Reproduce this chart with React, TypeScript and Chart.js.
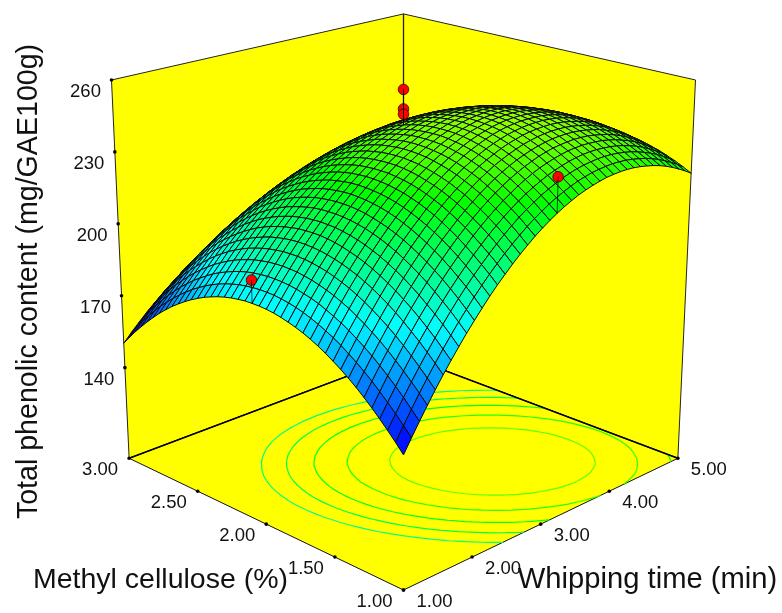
import React, { useEffect, useRef } from "react";
import { Chart, registerables } from "chart.js";
Chart.register(...registerables);

const timeTicks = [1, 2, 3, 4, 5];
const mcTicks = [1, 1.5, 2, 2.5, 3];
const zTicks = [140, 170, 200, 230, 260];
const zFloor = 102.2, zTop = 260;
const contourLevels = [209.5, 217.4, 225, 232.7, 240.3];
const runTime = [3, 3, 3, 3, 1];
const runMc = [2, 2, 2, 1, 2];
const runZ = [256.3, 248.6, 246.5, 238.8, 199.3];
const colorZ = [156.6, 192.1, 227.6, 263.1];
const colorRgb = [[0,0,255],[0,255,255],[0,255,0],[255,255,0]];

// Total phenolic content on the mesh: one row per methyl cellulose step, one value per whipping time step.
const zRow00 = [154.9,160.1,165.1,170.0,174.7,179.2,183.5,187.6,191.6,195.3,198.9,202.4,205.6,208.6,211.5,214.2,216.7,219.1,221.2,223.2,225.0,226.6,228.0,229.3,230.3,231.2,231.9,232.5,232.8,233.0,233.0,232.8,232.4,231.8,231.1,230.2,229.1,227.8,226.3,224.7,222.9];
const zRow01 = [158.4,163.5,168.5,173.4,178.0,182.4,186.7,190.8,194.7,198.4,202.0,205.4,208.6,211.6,214.4,217.0,219.5,221.8,223.9,225.8,227.6,229.1,230.5,231.7,232.8,233.6,234.3,234.7,235.0,235.2,235.1,234.9,234.4,233.8,233.1,232.1,231.0,229.6,228.1,226.5,224.6];
const zRow02 = [161.7,166.8,171.8,176.5,181.1,185.5,189.8,193.8,197.7,201.4,204.9,208.2,211.3,214.3,217.1,219.7,222.1,224.4,226.4,228.3,230.0,231.5,232.8,234.0,235.0,235.8,236.4,236.8,237.1,237.2,237.1,236.8,236.3,235.7,234.8,233.8,232.6,231.3,229.7,228.0,226.1];
const zRow03 = [164.8,169.9,174.8,179.5,184.1,188.4,192.6,196.6,200.4,204.1,207.5,210.8,213.9,216.8,219.6,222.1,224.5,226.7,228.7,230.6,232.2,233.7,235.0,236.1,237.0,237.8,238.4,238.8,239.0,239.0,238.8,238.5,238.0,237.3,236.4,235.4,234.2,232.7,231.1,229.4,227.4];
const zRow04 = [167.8,172.8,177.7,182.3,186.9,191.1,195.3,199.2,203.0,206.7,210.1,213.3,216.3,219.2,221.9,224.4,226.7,228.9,230.8,232.7,234.3,235.7,237.0,238.0,238.9,239.6,240.2,240.5,240.7,240.6,240.4,240.1,239.5,238.8,237.8,236.8,235.5,234.0,232.3,230.6,228.6];
const zRow05 = [170.6,175.6,180.4,185.0,189.5,193.7,197.8,201.7,205.5,209.0,212.4,215.6,218.6,221.4,224.0,226.5,228.8,230.9,232.8,234.6,236.1,237.5,238.7,239.8,240.6,241.3,241.7,242.0,242.2,242.1,241.9,241.4,240.8,240.1,239.1,238.0,236.6,235.1,233.4,231.6,229.5];
const zRow06 = [173.2,178.1,182.9,187.5,191.9,196.1,200.1,204.0,207.7,211.2,214.5,217.7,220.6,223.4,226.0,228.4,230.7,232.7,234.6,236.3,237.8,239.2,240.3,241.3,242.1,242.7,243.2,243.4,243.5,243.4,243.1,242.6,242.0,241.2,240.1,239.0,237.6,236.0,234.3,232.4,230.3];
const zRow07 = [175.6,180.5,185.2,189.7,194.1,198.3,202.3,206.1,209.7,213.2,216.5,219.6,222.5,225.2,227.8,230.2,232.4,234.4,236.2,237.9,239.3,240.6,241.7,242.7,243.4,244.0,244.4,244.6,244.6,244.5,244.1,243.6,242.9,242.1,241.0,239.8,238.4,236.8,235.0,233.0,230.9];
const zRow08 = [177.8,182.6,187.3,191.8,196.1,200.3,204.2,208.0,211.6,215.0,218.2,221.3,224.2,226.9,229.4,231.7,233.8,235.8,237.6,239.2,240.6,241.9,243.0,243.8,244.6,245.1,245.4,245.6,245.6,245.4,245.0,244.4,243.7,242.8,241.7,240.4,238.9,237.3,235.5,233.5,231.3];
const zRow09 = [179.8,184.7,189.3,193.7,198.0,202.1,206.0,209.7,213.3,216.7,219.8,222.8,225.7,228.3,230.8,233.1,235.2,237.1,238.8,240.4,241.8,243.0,244.0,244.9,245.5,246.0,246.3,246.4,246.4,246.1,245.7,245.1,244.3,243.3,242.2,240.9,239.4,237.7,235.8,233.8,231.5];
const zRow10 = [181.7,186.5,191.1,195.5,199.7,203.7,207.6,211.3,214.8,218.1,221.2,224.2,227.0,229.6,232.0,234.2,236.3,238.2,239.9,241.4,242.7,243.9,244.9,245.7,246.3,246.7,247.0,247.0,246.9,246.7,246.2,245.5,244.7,243.7,242.5,241.1,239.6,237.9,235.9,233.9,231.6];
const zRow11 = [183.4,188.1,192.6,197.0,201.2,205.2,209.0,212.6,216.1,219.4,222.5,225.4,228.1,230.7,233.0,235.2,237.2,239.1,240.7,242.2,243.5,244.6,245.5,246.3,246.9,247.3,247.5,247.5,247.3,247.0,246.5,245.8,244.9,243.9,242.6,241.2,239.6,237.8,235.9,233.8,231.4];
const zRow12 = [184.9,189.5,194.0,198.4,202.5,206.4,210.2,213.8,217.2,220.4,223.5,226.4,229.1,231.6,233.9,236.0,238.0,239.8,241.4,242.8,244.1,245.2,246.0,246.7,247.3,247.6,247.8,247.8,247.6,247.2,246.6,245.9,245.0,243.9,242.6,241.1,239.5,237.7,235.7,233.5,231.1];
const zRow13 = [186.2,190.8,195.3,199.5,203.6,207.5,211.2,214.8,218.2,221.3,224.4,227.2,229.8,232.3,234.6,236.7,238.6,240.3,241.9,243.3,244.5,245.5,246.3,247.0,247.5,247.8,247.9,247.9,247.6,247.2,246.6,245.8,244.8,243.7,242.4,240.9,239.2,237.3,235.2,233.0,230.6];
const zRow14 = [187.3,191.9,196.3,200.5,204.6,208.4,212.1,215.6,218.9,222.1,225.0,227.8,230.4,232.8,235.1,237.1,239.0,240.7,242.2,243.6,244.7,245.7,246.5,247.1,247.5,247.8,247.9,247.8,247.5,247.0,246.3,245.5,244.5,243.3,241.9,240.4,238.7,236.7,234.6,232.4,229.9];
const zRow15 = [188.2,192.8,197.1,201.3,205.3,209.1,212.8,216.2,219.5,222.6,225.5,228.2,230.8,233.2,235.4,237.4,239.2,240.9,242.3,243.6,244.7,245.7,246.4,247.0,247.4,247.6,247.6,247.5,247.1,246.6,245.9,245.0,244.0,242.8,241.3,239.7,238.0,236.0,233.9,231.6,229.1];
const zRow16 = [189.0,193.5,197.8,201.9,205.9,209.7,213.3,216.7,219.9,223.0,225.8,228.5,231.0,233.3,235.5,237.5,239.3,240.9,242.3,243.5,244.6,245.5,246.2,246.7,247.1,247.2,247.2,247.0,246.6,246.1,245.3,244.4,243.3,242.0,240.6,238.9,237.1,235.1,232.9,230.5,228.0];
const zRow17 = [189.6,194.0,198.3,202.4,206.3,210.0,213.6,216.9,220.1,223.1,226.0,228.6,231.1,233.3,235.4,237.4,239.1,240.7,242.1,243.2,244.3,245.1,245.8,246.2,246.5,246.7,246.6,246.4,245.9,245.3,244.5,243.6,242.4,241.1,239.6,237.9,236.0,234.0,231.8,229.4,226.8];
const zRow18 = [190.0,194.4,198.6,202.6,206.5,210.2,213.7,217.0,220.1,223.1,225.9,228.5,230.9,233.1,235.2,237.1,238.8,240.3,241.6,242.8,243.8,244.5,245.2,245.6,245.8,245.9,245.8,245.5,245.0,244.4,243.6,242.6,241.4,240.0,238.4,236.7,234.8,232.7,230.4,228.0,225.3];
const zRow19 = [190.2,194.5,198.7,202.7,206.5,210.2,213.6,216.9,220.0,222.9,225.6,228.2,230.6,232.8,234.8,236.6,238.3,239.7,241.0,242.1,243.1,243.8,244.4,244.8,245.0,245.0,244.8,244.5,244.0,243.3,242.4,241.4,240.1,238.7,237.1,235.3,233.4,231.2,228.9,226.4,223.7];
const zRow20 = [190.2,194.5,198.7,202.6,206.4,210.0,213.4,216.6,219.7,222.5,225.2,227.7,230.1,232.2,234.2,236.0,237.6,239.0,240.2,241.3,242.2,242.9,243.4,243.7,243.9,243.9,243.7,243.3,242.7,242.0,241.1,240.0,238.7,237.2,235.6,233.8,231.8,229.6,227.2,224.7,221.9];
const zRow21 = [190.1,194.3,198.4,202.3,206.0,209.6,212.9,216.1,219.1,222.0,224.6,227.1,229.4,231.4,233.4,235.1,236.7,238.1,239.3,240.3,241.1,241.8,242.2,242.5,242.7,242.6,242.4,241.9,241.3,240.5,239.6,238.4,237.1,235.6,233.9,232.0,230.0,227.7,225.3,222.7,220.0];
const zRow22 = [189.7,193.9,198.0,201.8,205.5,209.0,212.3,215.5,218.4,221.2,223.8,226.2,228.5,230.5,232.4,234.1,235.6,236.9,238.1,239.1,239.9,240.5,240.9,241.2,241.2,241.1,240.8,240.4,239.7,238.9,237.9,236.7,235.3,233.7,232.0,230.1,228.0,225.7,223.3,220.6,217.8];
const zRow23 = [189.2,193.4,197.4,201.2,204.8,208.3,211.5,214.6,217.5,220.3,222.8,225.2,227.4,229.4,231.2,232.9,234.4,235.7,236.8,237.7,238.4,239.0,239.4,239.6,239.6,239.5,239.1,238.6,237.9,237.0,236.0,234.7,233.3,231.7,229.9,228.0,225.8,223.5,221.0,218.3,215.5];
const zRow24 = [188.5,192.6,196.6,200.3,203.9,207.3,210.6,213.6,216.5,219.2,221.7,224.0,226.2,228.1,229.9,231.5,232.9,234.2,235.2,236.1,236.8,237.3,237.7,237.9,237.8,237.6,237.3,236.7,235.9,235.0,233.9,232.6,231.2,229.5,227.7,225.7,223.5,221.1,218.6,215.9,213.0];
const zRow25 = [187.6,191.7,195.6,199.3,202.9,206.2,209.4,212.4,215.2,217.9,220.3,222.6,224.7,226.6,228.4,229.9,231.3,232.5,233.5,234.4,235.0,235.5,235.8,235.9,235.9,235.6,235.2,234.6,233.8,232.8,231.7,230.3,228.8,227.1,225.3,223.2,221.0,218.6,216.0,213.2,210.3];
const zRow26 = [186.5,190.6,194.4,198.1,201.6,204.9,208.1,211.0,213.8,216.4,218.8,221.0,223.1,225.0,226.7,228.2,229.5,230.7,231.6,232.4,233.0,233.5,233.7,233.8,233.7,233.4,232.9,232.3,231.4,230.4,229.2,227.9,226.3,224.6,222.6,220.6,218.3,215.8,213.2,210.4,207.4];
const zRow27 = [185.3,189.3,193.1,196.7,200.2,203.4,206.5,209.5,212.2,214.7,217.1,219.3,221.3,223.1,224.8,226.3,227.5,228.7,229.6,230.3,230.9,231.3,231.5,231.5,231.3,231.0,230.5,229.8,228.9,227.9,226.6,225.2,223.6,221.8,219.9,217.7,215.4,212.9,210.2,207.4,204.3];
const zRow28 = [183.8,187.8,191.6,195.1,198.6,201.8,204.8,207.7,210.4,212.9,215.2,217.4,219.3,221.1,222.7,224.1,225.4,226.4,227.3,228.0,228.5,228.9,229.0,229.0,228.8,228.4,227.9,227.1,226.2,225.1,223.8,222.4,220.7,218.9,216.9,214.7,212.3,209.8,207.0,204.1,201.0];
const zRow29 = [182.2,186.1,189.8,193.4,196.8,199.9,202.9,205.8,208.4,210.9,213.1,215.2,217.2,218.9,220.4,221.8,223.0,224.0,224.9,225.5,226.0,226.3,226.4,226.4,226.1,225.7,225.1,224.3,223.3,222.2,220.8,219.3,217.6,215.8,213.7,211.5,209.1,206.5,203.7,200.8,197.6];
const zRow30 = [180.4,184.3,187.9,191.4,194.8,197.9,200.8,203.6,206.2,208.6,210.9,212.9,214.8,216.5,218.0,219.3,220.5,221.5,222.3,222.9,223.3,223.5,223.6,223.5,223.2,222.7,222.1,221.3,220.2,219.0,217.7,216.1,214.4,212.5,210.4,208.1,205.6,203.0,200.2,197.2,194.0];
const zRow31 = [178.4,182.2,185.9,189.3,192.6,195.7,198.6,201.3,203.9,206.2,208.4,210.4,212.3,213.9,215.4,216.7,217.8,218.7,219.5,220.0,220.4,220.6,220.6,220.5,220.1,219.6,218.9,218.0,217.0,215.7,214.3,212.7,210.9,209.0,206.8,204.5,202.0,199.3,196.5,193.4,190.2];
const zRow32 = [176.3,180.0,183.6,187.0,190.2,193.3,196.2,198.8,201.3,203.7,205.8,207.8,209.6,211.2,212.6,213.8,214.9,215.8,216.5,217.0,217.3,217.5,217.5,217.3,216.9,216.3,215.6,214.7,213.5,212.3,210.8,209.1,207.3,205.3,203.1,200.8,198.2,195.5,192.6,189.5,186.2];
const zRow33 = [173.9,177.6,181.2,184.5,187.7,190.7,193.5,196.2,198.6,200.9,203.0,204.9,206.7,208.2,209.6,210.8,211.8,212.6,213.3,213.8,214.1,214.2,214.1,213.9,213.4,212.8,212.0,211.1,209.9,208.6,207.1,205.4,203.5,201.5,199.2,196.8,194.2,191.4,188.5,185.4,182.0];
const zRow34 = [171.4,175.0,178.5,181.8,185.0,187.9,190.7,193.3,195.7,198.0,200.0,201.9,203.6,205.1,206.4,207.6,208.5,209.3,209.9,210.4,210.6,210.7,210.6,210.3,209.8,209.2,208.3,207.3,206.1,204.7,203.2,201.4,199.5,197.4,195.1,192.7,190.0,187.2,184.2,181.0,177.7];
const zRow35 = [168.6,172.3,175.7,179.0,182.1,185.0,187.7,190.3,192.6,194.8,196.8,198.7,200.3,201.8,203.1,204.2,205.1,205.8,206.4,206.8,207.0,207.0,206.8,206.5,206.0,205.3,204.4,203.4,202.1,200.7,199.1,197.3,195.3,193.2,190.9,188.4,185.7,182.8,179.8,176.6,173.1];
const zRow36 = [165.7,169.3,172.7,176.0,179.0,181.9,184.5,187.1,189.4,191.5,193.5,195.3,196.9,198.3,199.5,200.6,201.5,202.2,202.7,203.0,203.2,203.2,203.0,202.6,202.0,201.3,200.3,199.2,197.9,196.5,194.8,193.0,191.0,188.8,186.4,183.9,181.2,178.2,175.1,171.9,168.4];
const zRow37 = [162.6,166.2,169.5,172.7,175.7,178.5,181.2,183.6,185.9,188.0,189.9,191.7,193.2,194.6,195.8,196.8,197.6,198.3,198.8,199.1,199.2,199.1,198.9,198.4,197.8,197.0,196.1,194.9,193.6,192.1,190.4,188.5,186.4,184.2,181.8,179.2,176.4,173.5,170.3,167.0,163.5];
const zRow38 = [159.4,162.9,166.2,169.3,172.3,175.0,177.6,180.1,182.3,184.3,186.2,187.9,189.4,190.7,191.9,192.9,193.7,194.3,194.7,194.9,195.0,194.9,194.6,194.1,193.5,192.6,191.6,190.4,189.0,187.5,185.7,183.8,181.7,179.5,177.0,174.4,171.5,168.5,165.3,162.0,158.4];
const zRow39 = [155.9,159.4,162.6,165.7,168.6,171.4,173.9,176.3,178.5,180.5,182.3,184.0,185.4,186.7,187.8,188.7,189.5,190.0,190.4,190.6,190.6,190.5,190.1,189.6,188.9,188.1,187.0,185.8,184.3,182.7,180.9,179.0,176.8,174.5,172.0,169.3,166.4,163.4,160.2,156.8,153.2];
const zRow40 = [152.3,155.7,158.9,162.0,164.8,167.5,170.0,172.3,174.5,176.4,178.2,179.8,181.2,182.5,183.5,184.4,185.1,185.6,186.0,186.1,186.1,185.9,185.5,184.9,184.2,183.3,182.2,180.9,179.4,177.8,175.9,173.9,171.7,169.4,166.8,164.1,161.2,158.1,154.8,151.4,147.7];
const zRows = [zRow00,zRow01,zRow02,zRow03,zRow04,zRow05,zRow06,zRow07,zRow08,zRow09,zRow10,zRow11,zRow12,zRow13,zRow14,zRow15,zRow16,zRow17,zRow18,zRow19,zRow20,zRow21,zRow22,zRow23,zRow24,zRow25,zRow26,zRow27,zRow28,zRow29,zRow30,zRow31,zRow32,zRow33,zRow34,zRow35,zRow36,zRow37,zRow38,zRow39,zRow40];
const N = zRows.length - 1;

const project = (u: number, v: number, w: number) => {
  const d = u + v, D = 1 + 0.1375 * d - 0.0687 * w;
  return { x: 403.5 + (312.1 * (u - v)) / D, y: (590 - 68.7 * d - 435.8 * w) / D };
};
const W = (z: number) => (z - zFloor) / (zTop - zFloor);
const colorOf = (z: number) => {
  if (z <= colorZ[0]) return `rgb(${colorRgb[0]})`;
  for (let k = 0; k < colorZ.length - 1; k++) if (z <= colorZ[k + 1]) {
    const t = (z - colorZ[k]) / (colorZ[k + 1] - colorZ[k]);
    return `rgb(${colorRgb[k].map((c, m) => Math.round(c + (colorRgb[k + 1][m] - c) * t))})`;
  }
  return `rgb(${colorRgb[3]})`;
};
const lerp = (a: any, b: any, t: number) => ({ x: a.x + (b.x - a.x) * t, y: a.y + (b.y - a.y) * t });

function contourSegments(level: number) {
  const out: any[] = [];
  const f = (i: number, j: number) => zRows[j][i];
  for (let j = 0; j < N; j++) for (let i = 0; i < N; i++) {
    const c = [[i, j], [i + 1, j], [i + 1, j + 1], [i, j + 1]];
    const pts: any[] = [];
    for (let e = 0; e < 4; e++) {
      const a = c[e], b = c[(e + 1) % 4];
      const za = f(a[0], a[1]), zb = f(b[0], b[1]);
      if ((za < level) !== (zb < level)) {
        const t = (level - za) / (zb - za);
        pts.push(project((a[0] + (b[0] - a[0]) * t) / N, (a[1] + (b[1] - a[1]) * t) / N, 0));
      }
    }
    if (pts.length >= 2) out.push(pts[0], pts[1], { x: NaN, y: NaN });
  }
  return out;
}

const polyFill = {
  id: "polyFill",
  beforeDatasetDraw(chart: any, args: any) {
    const ds = chart.data.datasets[args.index];
    if (!ds.polyColor) return;
    const pts = args.meta.data, ctx = chart.ctx;
    ctx.save(); ctx.beginPath();
    pts.forEach((p: any, k: number) => (k ? ctx.lineTo(p.x, p.y) : ctx.moveTo(p.x, p.y)));
    ctx.closePath(); ctx.fillStyle = ds.polyColor; ctx.fill(); ctx.restore();
  },
};

const font = (s: number) => `${s}px "Liberation Sans", Arial, sans-serif`;
const textPlugin = {
  id: "texts",
  afterDraw(chart: any) {
    const ctx = chart.ctx, sx = chart.scales.x, sy = chart.scales.y;
    const px = (p: any) => ({ x: sx.getPixelForValue(p.x), y: sy.getPixelForValue(p.y) });
    ctx.save(); ctx.fillStyle = "#111"; ctx.textAlign = "center"; ctx.textBaseline = "middle"; ctx.font = font(18.5);
    const F = project(0, 0, 0), R = project(1, 0, 0), L = project(0, 1, 0), TL = project(0, 1, 1);
    timeTicks.forEach((t) => { const p = px(lerp(F, R, (t - 1) / 4)); ctx.fillText(t.toFixed(2), p.x + 31, p.y + 12); });
    mcTicks.forEach((t) => { const p = px(lerp(F, L, (t - 1) / 2)); ctx.fillText(t.toFixed(2), p.x - 29, p.y + 12); });
    zTicks.forEach((t) => { const p = px(lerp(L, TL, (t - zFloor) / (zTop - zFloor))); ctx.fillText(String(t), p.x - 26, p.y + 12); });
    ctx.textBaseline = "alphabetic"; ctx.font = font(28.5);
    ctx.fillText("Methyl cellulose (%)", 160.5, 588);
    ctx.font = font(29.2);
    ctx.fillText("Whipping time (min)", 647.5, 588);
    ctx.font = font(28.6);
    ctx.translate(37, 281.5); ctx.rotate(-Math.PI / 2);
    ctx.fillText("Total phenolic content (mg/GAE100g)", 0, 0);
    ctx.restore();
  },
};

export default function App() {
  const ref = useRef<HTMLCanvasElement>(null);
  useEffect(() => {
    const list: any[] = [];
    const line = (data: any[], color: string, width: number, extra: any = {}) =>
      list.push({ type: "line", data, borderColor: color, borderWidth: width, pointRadius: 0, fill: false, tension: 0, spanGaps: false, ...extra });
    const F = project(0, 0, 0), R = project(1, 0, 0), L = project(0, 1, 0), B = project(1, 1, 0);
    const TL = project(0, 1, 1), TR = project(1, 0, 1), TB = project(1, 1, 1);
    line([TL, TB, B, L, TL], "#222", 1, { polyColor: "#ffff00" });
    line([TR, TB, B, R, TR], "#222", 1, { polyColor: "#ffff00" });
    line([F, R, B, L, F], "#111", 1, { polyColor: "#ffff00" });
    contourLevels.forEach((lv) => line(contourSegments(lv), colorOf(lv), 1.2));
    line([L, B, R], "#000", 1.6);
    line([TB, B], "#222", 1.3);
    const ticks: any[] = [];
    timeTicks.forEach((t) => ticks.push(lerp(F, R, (t - 1) / 4)));
    mcTicks.forEach((t) => ticks.push(lerp(F, L, (t - 1) / 2)));
    zTicks.forEach((t) => ticks.push(lerp(L, TL, (t - zFloor) / (zTop - zFloor))));
    list.push({ type: "scatter", data: ticks, pointRadius: 1.8, pointBackgroundColor: "#000", pointBorderWidth: 0, showLine: false });
    const cells: [number, number][] = [];
    for (let j = 0; j < N; j++) for (let i = 0; i < N; i++) cells.push([i, j]);
    cells.sort((a, b) => b[0] + b[1] - a[0] - a[1]);
    for (const [i, j] of cells) {
      const zs = [zRows[j][i], zRows[j][i + 1], zRows[j + 1][i + 1], zRows[j + 1][i]];
      const c = [[i, j], [i + 1, j], [i + 1, j + 1], [i, j + 1]];
      const poly = c.map((q, k) => project(q[0] / N, q[1] / N, W(zs[k])));
      line([...poly, poly[0]], "#0a0a0a", 1, { polyColor: colorOf((zs[0] + zs[1] + zs[2] + zs[3]) / 4) });
    }
    const runs = runZ.map((z, k) => project((runTime[k] - 1) / 4, (runMc[k] - 1) / 2, W(z)));
    list.push({ type: "scatter", data: runs, pointRadius: 5.3, pointBackgroundColor: "#ff0000", pointBorderColor: "#300", pointBorderWidth: 0.8, showLine: false });
    runZ.forEach((z, k) => {
      const u = (runTime[k] - 1) / 4, v = (runMc[k] - 1) / 2;
      const foot = zRows[Math.round(v * N)][Math.round(u * N)];
      line([project(u, v, W(z)), project(u, v, W(foot))], "rgba(0,0,0,0.7)", 1);
    });
    list.forEach((d, k) => (d.order = list.length - k));
    const chart = new Chart(ref.current!, {
      type: "scatter",
      data: { datasets: list },
      options: {
        animation: false, responsive: false, events: [],
        layout: { padding: 0, autoPadding: false },
        plugins: { legend: { display: false }, tooltip: { enabled: false }, title: { display: false } },
        scales: {
          x: { type: "linear", display: false, min: 0, max: 782 },
          y: { type: "linear", display: false, min: 0, max: 613, reverse: true },
        },
      },
      plugins: [polyFill, textPlugin],
    } as any);
    return () => chart.destroy();
  }, []);
  return <canvas ref={ref} width={782} height={613} style={{ position: "absolute", left: 0, top: 0, display: "block" }} />;
}
